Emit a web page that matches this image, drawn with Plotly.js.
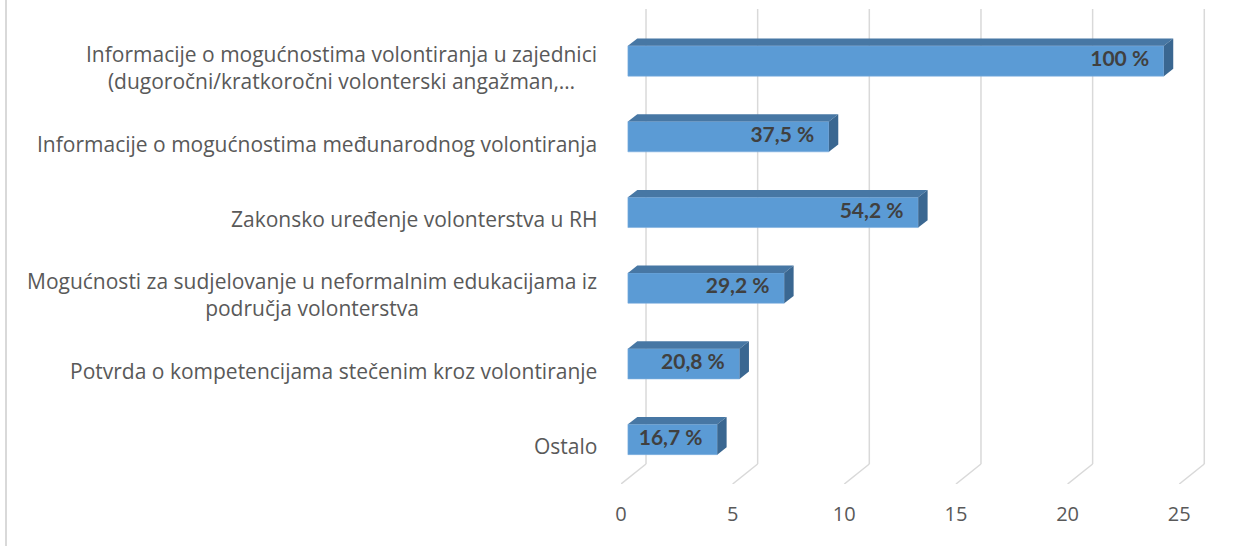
<!DOCTYPE html>
<html><head><meta charset="utf-8">
<script src="https://cdn.plot.ly/plotly-3.0.1.min.js"></script>
<style>
html,body{margin:0;padding:0;background:#fff}
#wrap{position:relative;width:1250px;height:546px;overflow:hidden}
#chart{width:1250px;height:546px}
#edge{position:absolute;left:5px;top:0;width:2px;height:546px;background:#D9D9D9}
</style>
</head><body><div id="wrap"><div id="chart"></div><div id="edge"></div></div>
<script>
const categories = [
  "Informacije o mogućnostima volontiranja u zajednici<br>(dugoročni/kratkoročni volonterski angažman,…",
  "Informacije o mogućnostima međunarodnog volontiranja",
  "Zakonsko uređenje volonterstva u RH",
  "Mogućnosti za sudjelovanje u neformalnim edukacijama iz<br>područja volonterstva",
  "Potvrda o kompetencijama stečenim kroz volontiranje",
  "Ostalo"
];
const counts = [24, 9, 13, 7, 5, 4];
const percentLabels = ["100 %", "37,5 %", "54,2 %", "29,2 %", "20,8 %", "16,7 %"];
const xTicks = [0, 5, 10, 15, 20, 25];

// style / geometry constants
const BASE = 0.31, BAR_W = 0.4, DX = 0.42, DY = 0.097;
const BACK_DX = 1.12, BACK_Y = -0.324, Y_MIN = -0.588, Y_MAX = 5.687, X_MAX = 26.6;
const LABEL_DY = 0.09, TEXT_INSET = 0.66;
const FONT = "'Open Sans', Lato, sans-serif";
const BOLD_FONT = "Lato, 'Open Sans', sans-serif";

const n = categories.length;
const ks = categories.map((c, i) => n - 1 - i);

const traces = [];
traces.push({
  type: 'bar', orientation: 'h', y: ks, x: counts, base: BASE, width: BAR_W,
  marker: {color: '#5B9BD5', line: {color: '#7EAFDF', width: 0.6}},
  hoverinfo: 'skip', showlegend: false
});
counts.forEach((v, i) => {
  const k = ks[i], y0 = k - BAR_W / 2, y1 = k + BAR_W / 2, x0 = BASE, x1 = BASE + v;
  traces.push({
    type: 'scatter', mode: 'lines', fill: 'toself', fillcolor: '#4777A4',
    line: {width: 0, color: '#4777A4'},
    x: [x0, x1, x1 + DX, x0 + DX, x0], y: [y1, y1, y1 + DY, y1 + DY, y1],
    hoverinfo: 'skip', showlegend: false
  });
  traces.push({
    type: 'scatter', mode: 'lines', fill: 'toself', fillcolor: '#3A6791',
    line: {width: 0, color: '#3A6791'},
    x: [x1, x1 + DX, x1 + DX, x1, x1], y: [y0, y0 + DY, y1 + DY, y1, y0],
    hoverinfo: 'skip', showlegend: false
  });
});
traces.push({
  type: 'scatter', mode: 'text', x: counts.map(v => BASE + v - TEXT_INSET), y: ks,
  text: percentLabels, textposition: 'middle left',
  textfont: {family: BOLD_FONT, size: 21, color: '#404040', weight: 'bold'},
  hoverinfo: 'skip', showlegend: false, cliponaxis: false
});

const shapes = [];
xTicks.forEach(t => {
  shapes.push({type: 'line', xref: 'x', yref: 'y', layer: 'below',
    x0: t, y0: Y_MIN, x1: t + BACK_DX, y1: BACK_Y, line: {color: '#D9D9D9', width: 1.5}});
  shapes.push({type: 'line', xref: 'x', yref: 'y', layer: 'below',
    x0: t + BACK_DX, y0: BACK_Y, x1: t + BACK_DX, y1: Y_MAX, line: {color: '#D9D9D9', width: 1.5}});
});

const annotations = categories.map((c, i) => ({
  text: c, xref: 'paper', x: 0, xanchor: 'right', xshift: -22,
  yref: 'y', y: ks[i] - LABEL_DY, yanchor: 'middle', align: 'center', showarrow: false,
  font: {family: FONT, size: 21, color: '#595959'}
}));

const layout = {
  width: 1250, height: 546,
  margin: {l: 621, r: 35, t: 9, b: 62},
  paper_bgcolor: '#fff', plot_bgcolor: 'rgba(0,0,0,0)',
  showlegend: false, hovermode: false,
  xaxis: {range: [0, X_MAX], tickvals: xTicks, ticktext: xTicks.map(String),
    showgrid: false, zeroline: false, showline: false,
    ticks: 'outside', ticklen: 12, tickcolor: 'rgba(0,0,0,0)',
    tickfont: {family: FONT, size: 20, color: '#595959'}, fixedrange: true},
  yaxis: {range: [Y_MIN, Y_MAX], showticklabels: false, showgrid: false,
    zeroline: false, showline: false, fixedrange: true},
  shapes: shapes, annotations: annotations
};

Plotly.newPlot('chart', traces, layout, {displayModeBar: false, staticPlot: true});
</script>
</body></html>
